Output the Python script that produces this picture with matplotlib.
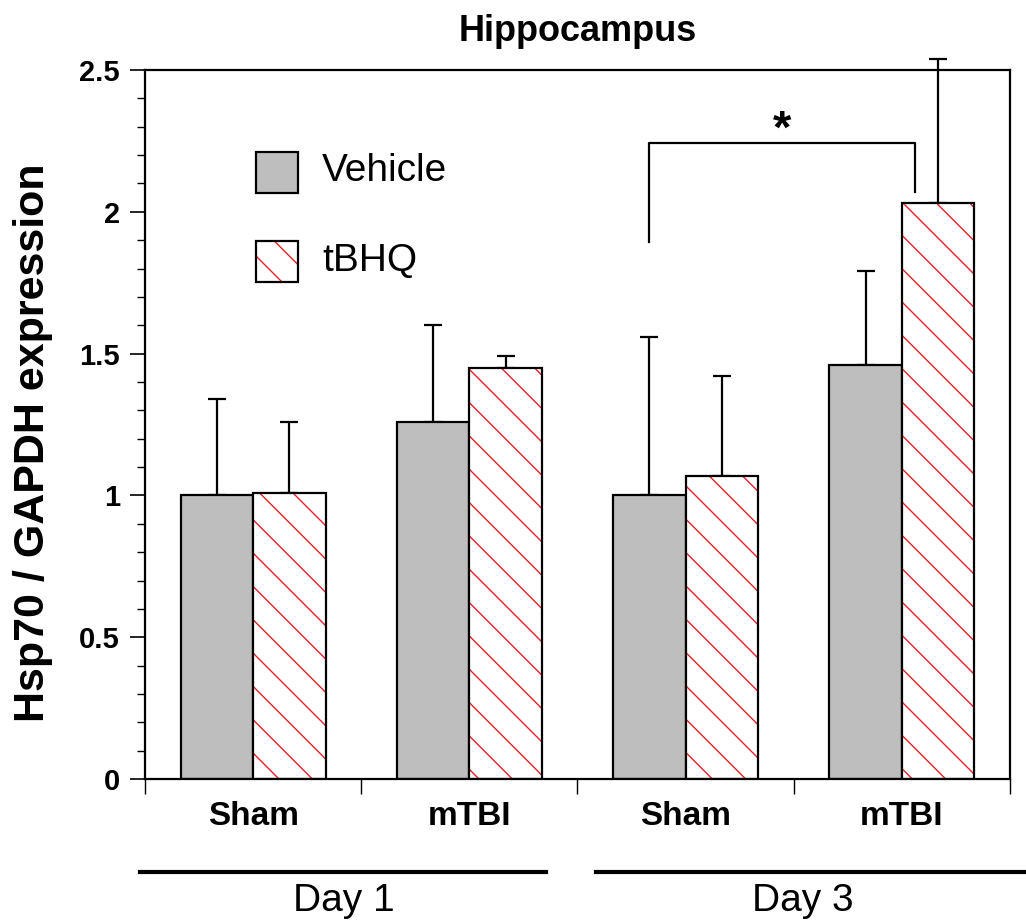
import matplotlib.pyplot as plt
import numpy as np
from matplotlib.patches import Rectangle
from matplotlib.ticker import MultipleLocator, FixedLocator, NullFormatter

plt.rcParams['font.family'] = ['Liberation Sans', 'DejaVu Sans']
plt.rcParams['hatch.linewidth'] = 1.0

# data
groups = ['Sham', 'mTBI', 'Sham', 'mTBI']
days = ['Day 1', 'Day 3']
vehicle = [1.00, 1.26, 1.00, 1.46]
vehicle_err = [0.34, 0.34, 0.56, 0.33]
tbhq = [1.01, 1.45, 1.07, 2.03]
tbhq_err = [0.25, 0.04, 0.35, 0.51]

# significance bracket (Day 3 Sham vehicle vs Day 3 mTBI tBHQ)
bracket_top = 2.243
bracket_left_bottom = 1.894
bracket_right_bottom = 2.07

w = 0.335
x = np.arange(len(groups)) + 0.5

fig = plt.figure(figsize=(10.26, 9.23), dpi=100)
ax = fig.add_axes([0.1413, 0.156, 0.8431, 0.7681])

ax.bar(x - w / 2, vehicle, w, color='#bebebe', edgecolor='black', linewidth=1.6, zorder=2)
# hatch in red, outline in black: two layers
ax.bar(x + w / 2, tbhq, w, color='white', edgecolor='#e8202a', hatch='\\', linewidth=0, zorder=2)
ax.bar(x + w / 2, tbhq, w, fill=False, edgecolor='black', linewidth=1.6, zorder=3)

for xs, ys, es in [(x - w / 2, vehicle, vehicle_err), (x + w / 2, tbhq, tbhq_err)]:
    eb = ax.errorbar(xs, ys, yerr=[np.zeros(4), es], fmt='none', ecolor='black',
                     elinewidth=1.6, capsize=6.5, capthick=1.6, zorder=1)
    for art in eb.lines[1] + eb.lines[2]:
        art.set_clip_on(False)

# bracket
xl = x[2] - w / 2
xr = x[3] + 0.06
ax.plot([xl, xl, xr, xr], [bracket_left_bottom, bracket_top, bracket_top, bracket_right_bottom],
        color='black', lw=1.6, clip_on=False)
ax.text((xl + xr) / 2, bracket_top, '*', ha='center', va='baseline',
        fontsize=34, fontweight='bold')

ax.set_xlim(0, 4)
ax.set_ylim(0, 2.5)
for s in ax.spines.values():
    s.set_linewidth(1.6)

ax.yaxis.set_minor_locator(MultipleLocator(0.1))
ax.set_yticks([0, 0.5, 1, 1.5, 2, 2.5])
ax.set_yticklabels(['0', '0.5', '1', '1.5', '2', '2.5'], fontsize=21, fontweight='bold')
ax.tick_params(axis='y', which='major', direction='out', length=11, width=1.2, pad=7)
ax.tick_params(axis='y', which='minor', direction='out', length=5.5, width=1.0)
ax.tick_params(axis='y', which='both', right=False)

ax.xaxis.set_major_locator(FixedLocator([0, 1, 2, 3, 4]))
ax.xaxis.set_major_formatter(NullFormatter())
ax.xaxis.set_minor_locator(FixedLocator(x))
ax.set_xticklabels(groups, minor=True, fontsize=24, fontweight='bold')
ax.tick_params(axis='x', which='major', direction='out', length=11, width=1.0)
ax.tick_params(axis='x', which='minor', length=0, pad=16)

ax.set_ylabel('Hsp70 / GAPDH expression', fontsize=31, fontweight='bold', va='center')
ax.yaxis.set_label_coords(-0.129, 0.475)
ax.set_title('Hippocampus', fontsize=26, fontweight='bold', pad=21)

# legend drawn by hand
tr = ax.transAxes
ax.add_patch(Rectangle((0.1283, 0.827), 0.0486, 0.058, transform=tr,
                       facecolor='#bebebe', edgecolor='black', lw=1.6))
ax.add_patch(Rectangle((0.1283, 0.701), 0.0486, 0.058, transform=tr,
                       facecolor='white', edgecolor='#e8202a', hatch='\\', lw=0))
ax.add_patch(Rectangle((0.1283, 0.701), 0.0486, 0.058, transform=tr,
                       fill=False, edgecolor='black', lw=1.6))
ax.text(0.205, 0.857, 'Vehicle', transform=tr, fontsize=28, va='center')
ax.text(0.205, 0.731, 'tBHQ', transform=tr, fontsize=28, va='center')

# day grouping lines and labels
bt = ax.get_xaxis_transform()
ax.plot([-0.023, 1.854], [-0.131, -0.131], color='black', lw=3, transform=bt, clip_on=False)
ax.plot([2.085, 4.2], [-0.131, -0.131], color='black', lw=3, transform=bt, clip_on=False)
ax.text(0.92, -0.172, days[0], transform=bt, fontsize=28, ha='center', va='center')
ax.text(3.04, -0.172, days[1], transform=bt, fontsize=28, ha='center', va='center')

plt.savefig('out.png', dpi=100)
